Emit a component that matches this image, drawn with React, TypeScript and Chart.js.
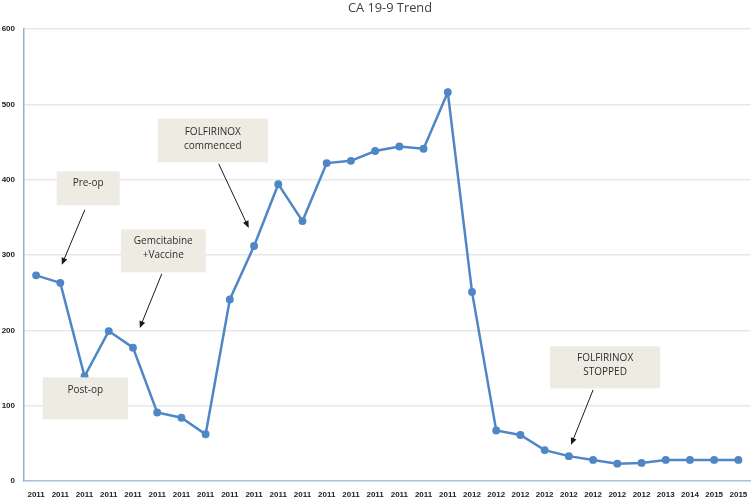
import React, { useEffect, useRef } from "react";
import { Chart, registerables } from "chart.js";

Chart.register(...registerables);

const categories = [
  "2011", "2011", "2011", "2011", "2011", "2011", "2011", "2011", "2011",
  "2011", "2011", "2011", "2011", "2011", "2011", "2011", "2011", "2011",
  "2012", "2012", "2012", "2012", "2012", "2012", "2012", "2012",
  "2013", "2014", "2015", "2015",
];

const ca199Values = [
  273, 263, 139, 199, 177, 91, 84, 62, 241, 312, 394, 345, 422, 425, 438,
  444, 441, 516, 251, 67, 61, 41, 33, 28, 23, 24, 28, 28, 28, 28,
];

const yTicks = [0, 100, 200, 300, 400, 500, 600];

const chartTitle = "CA 19-9 Trend";

// Annotation callouts, placed in data units (category index, value)
const annotationTexts = [
  ["Pre-op"],
  ["Post-op"],
  ["Gemcitabine", "+Vaccine"],
  ["FOLFIRINOX", "commenced"],
  ["FOLFIRINOX", "STOPPED"],
];
const annotationBoxes = [
  // [x0, x1, yTop, yBottom, textY]
  [0.85, 3.45, 411, 366, 395],
  [0.27, 3.79, 137.6, 81.8, 120],
  [3.5, 7.0, 334, 277, 319],
  [5.02, 9.57, 481, 423, 463],
  [21.22, 25.77, 178.7, 123, 163],
];
const annotationArrows = [
  // [fromX, fromY, toX, toY] or null
  [2.01, 360, 1.06, 287],
  null,
  [5.19, 275, 4.28, 203],
  [7.54, 421, 8.78, 336],
  [23.0, 121, 22.09, 48],
];

const annotationPlugin = {
  id: "callouts",
  afterDatasetsDraw(chart: any) {
    const { ctx, scales, chartArea } = chart;
    const xs = scales.x;
    const ys = scales.y;
    const px = (v: number) => xs.getPixelForValue(0) + v * (xs.getPixelForValue(1) - xs.getPixelForValue(0));
    const py = (v: number) => ys.getPixelForValue(v);
    ctx.save();
    annotationBoxes.forEach((b, i) => {
      const x0 = px(b[0]);
      const x1 = px(b[1]);
      const y0 = py(b[2]);
      const y1 = py(b[3]);
      ctx.fillStyle = "#eeebe3";
      ctx.fillRect(x0, y0, x1 - x0, y1 - y0);
      ctx.fillStyle = "#2e2e2e";
      ctx.font = '10px "Open Sans", sans-serif';
      ctx.textAlign = "center";
      ctx.textBaseline = "middle";
      const cx = (x0 + x1) / 2;
      const lines = annotationTexts[i];
      const ty = py(b[4]);
      lines.forEach((t, j) => ctx.fillText(t, cx, ty + j * 14));
    });
    annotationArrows.forEach((a) => {
      if (!a) return;
      const x0 = px(a[0]);
      const y0 = py(a[1]);
      const x1 = px(a[2]);
      const y1 = py(a[3]);
      const ang = Math.atan2(y1 - y0, x1 - x0);
      const hl = 7;
      const hw = 3;
      ctx.strokeStyle = "#1a1a1a";
      ctx.lineWidth = 1;
      ctx.beginPath();
      ctx.moveTo(x0, y0);
      ctx.lineTo(x1 - Math.cos(ang) * hl * 0.8, y1 - Math.sin(ang) * hl * 0.8);
      ctx.stroke();
      ctx.fillStyle = "#1a1a1a";
      ctx.beginPath();
      ctx.moveTo(x1, y1);
      ctx.lineTo(
        x1 - Math.cos(ang) * hl - Math.sin(ang) * hw,
        y1 - Math.sin(ang) * hl + Math.cos(ang) * hw
      );
      ctx.lineTo(
        x1 - Math.cos(ang) * hl + Math.sin(ang) * hw,
        y1 - Math.sin(ang) * hl - Math.cos(ang) * hw
      );
      ctx.closePath();
      ctx.fill();
    });
    // title
    ctx.fillStyle = "#404040";
    ctx.font = '12.8px "Open Sans", sans-serif';
    ctx.textAlign = "center";
    ctx.textBaseline = "middle";
    ctx.fillText(chartTitle, 390, 8);
    ctx.restore();
  },
};

const tickFont = { family: "'Liberation Sans', Arial, sans-serif", size: 8, weight: "bold" as const };

export default function App() {
  const canvasRef = useRef<HTMLCanvasElement | null>(null);

  useEffect(() => {
    if (!canvasRef.current) return;
    const chart = new Chart(canvasRef.current, {
      type: "line",
      data: {
        labels: categories,
        datasets: [
          {
            label: "CA 19-9",
            data: ca199Values,
            borderColor: "#4f87c6",
            backgroundColor: "#4f87c6",
            pointBackgroundColor: "#4f87c6",
            pointBorderColor: "#4f87c6",
            borderWidth: 2.5,
            pointRadius: 2.7,
            tension: 0,
          },
        ],
      },
      options: {
        animation: false,
        responsive: false,
        maintainAspectRatio: false,
        layout: { autoPadding: false, padding: { top: 29, right: 1.5, left: 0, bottom: 0 } },
        plugins: {
          legend: { display: false },
          title: { display: false },
          tooltip: { enabled: false },
        },
        scales: {
          x: {
            type: "category",
            offset: true,
            grid: { display: false, drawTicks: false },
            border: { color: "#a9c4e2", width: 1.5 },
            ticks: {
              color: "#222222",
              font: tickFont,
              maxRotation: 0,
              minRotation: 0,
              autoSkip: false,
              padding: 9,
            },
            afterFit: (scale: any) => {
              scale.height = 18;
              scale.paddingLeft = 0;
              scale.paddingRight = 0;
            },
          },
          y: {
            min: 0,
            max: 600,
            afterBuildTicks: (scale: any) => {
              scale.ticks = yTicks.map((v) => ({ value: v }));
            },
            grid: { color: "#e8e8e8", lineWidth: 1.5, drawTicks: false },
            border: { color: "#8fb2dc", width: 1.5 },
            ticks: {
              color: "#222222",
              font: tickFont,
              padding: 9,
            },
            afterFit: (scale: any) => {
              scale.width = 24;
              scale.paddingTop = 0;
              scale.paddingBottom = 0;
            },
          },
        },
      },
      plugins: [annotationPlugin],
    });
    return () => chart.destroy();
  }, []);

  return (
    <div style={{ position: "fixed", left: 0, top: 0, width: 752, height: 499, background: "#ffffff" }}>
      <canvas ref={canvasRef} width={752} height={499} style={{ width: 752, height: 499, display: "block" }} />
    </div>
  );
}
